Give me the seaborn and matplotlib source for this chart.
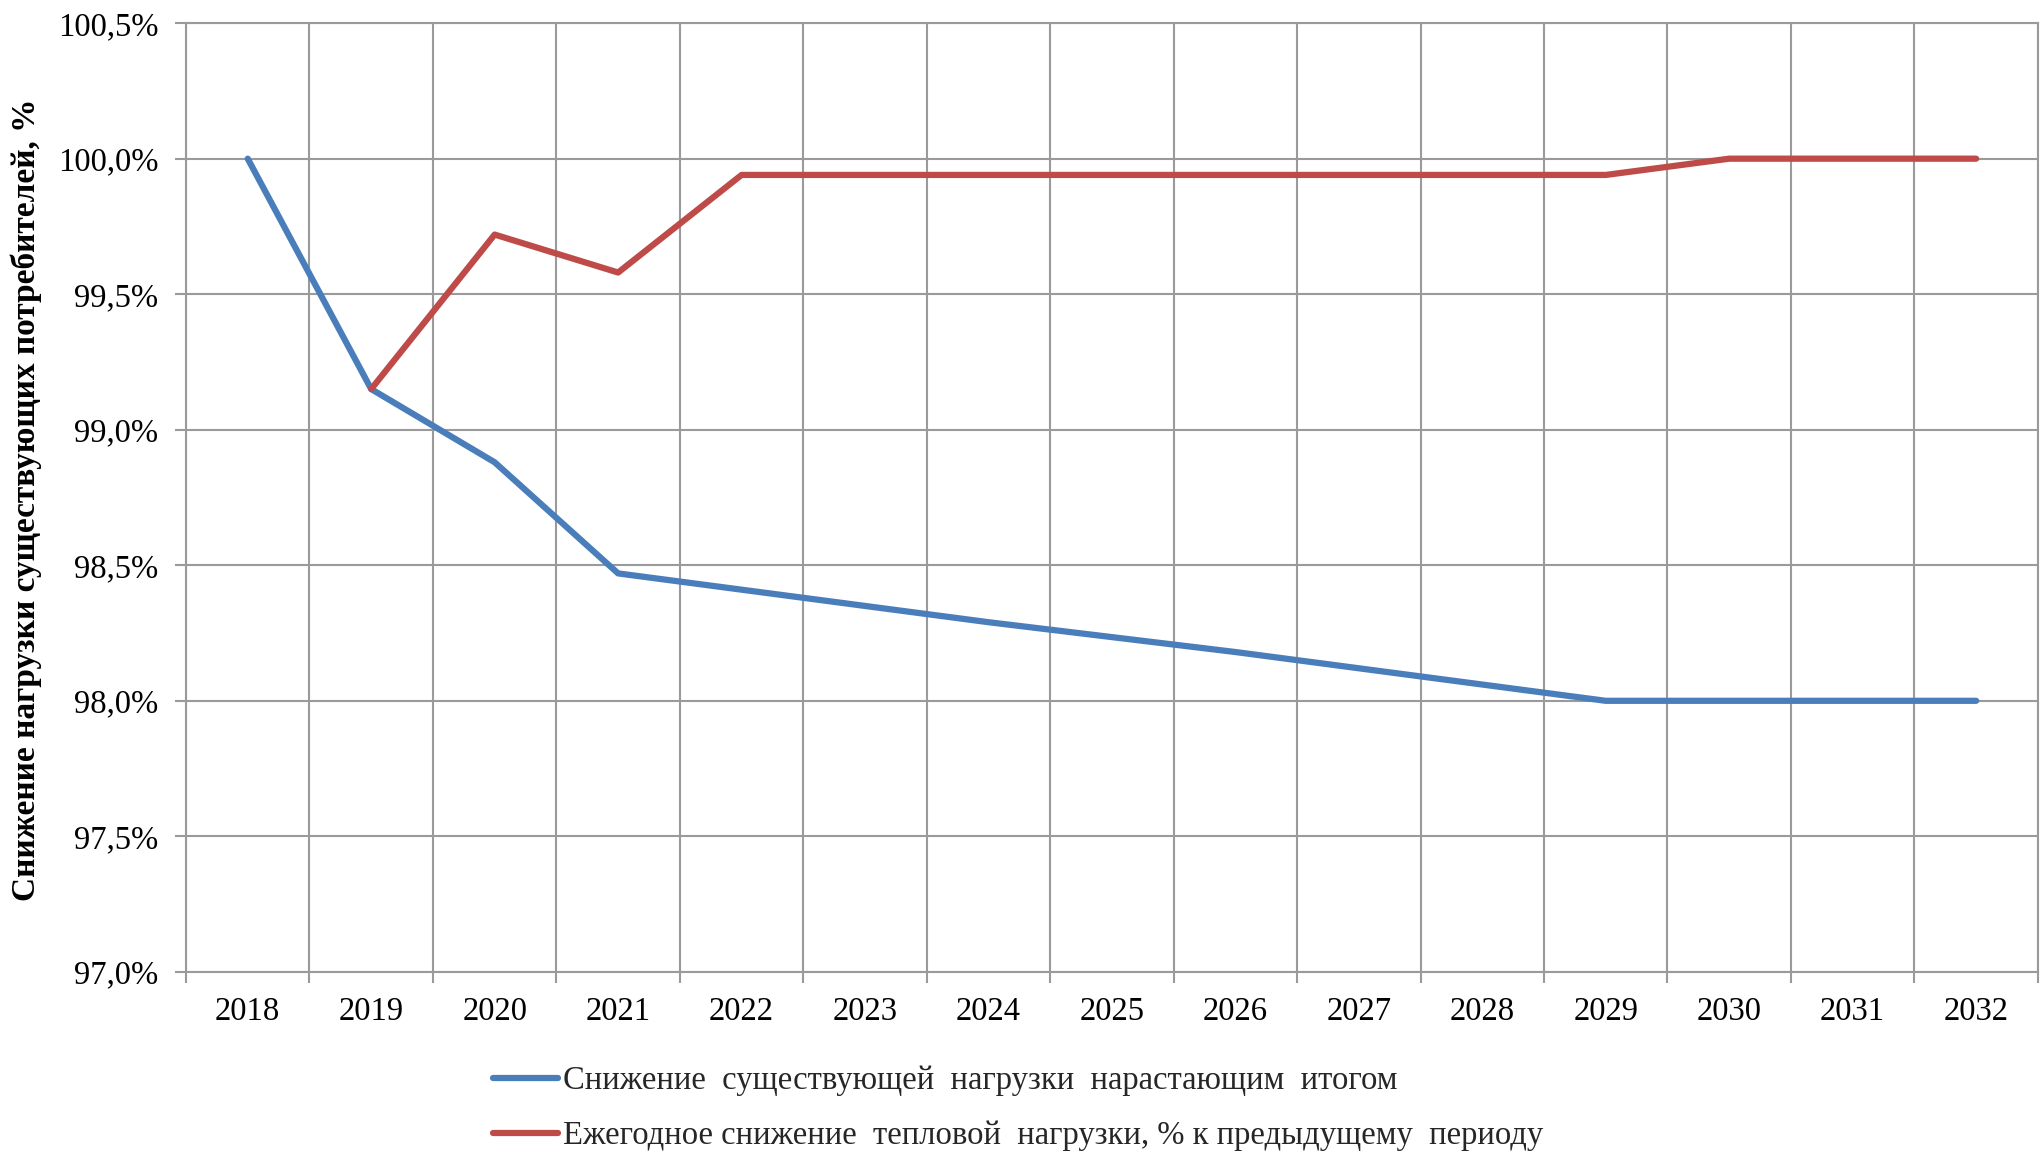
import matplotlib
matplotlib.use("Agg")
import matplotlib.pyplot as plt
import seaborn as sns
import pandas as pd
import numpy as np
from matplotlib.ticker import FuncFormatter, FixedLocator
from matplotlib.lines import Line2D

years = ["2018", "2019", "2020", "2021", "2022", "2023", "2024", "2025",
         "2026", "2027", "2028", "2029", "2030", "2031", "2032"]
cumulative = [100.00, 99.15, 98.88, 98.47, 98.41, 98.35, 98.29, 98.235,
              98.18, 98.12, 98.06, 98.00, 98.00, 98.00, 98.00]
annual_years = years[1:]
annual = [99.15, 99.72, 99.58, 99.94, 99.94, 99.94, 99.94, 99.94,
          99.94, 99.94, 99.94, 100.00, 100.00, 100.00]
series_names = ["Снижение  существующей  нагрузки  нарастающим  итогом",
                "Ежегодное снижение  тепловой  нагрузки, % к предыдущему  периоду"]
y_label = "Снижение нагрузки существующих потребителей, %"

rows = []
for y, v in zip(years, cumulative):
    rows.append({"idx": years.index(y), "val": v, "series": series_names[0]})
for y, v in zip(annual_years, annual):
    rows.append({"idx": years.index(y), "val": v, "series": series_names[1]})
df = pd.DataFrame(rows)

sns.set_theme(style="white")
plt.rcParams["font.family"] = ["Liberation Serif", "DejaVu Serif"]

fig = plt.figure(figsize=(20.44, 11.57), dpi=100)
ax = fig.add_axes([0.091, 0.160, 0.906, 0.820])

palette = {series_names[0]: "#4A7EBB", series_names[1]: "#BE4B48"}
sns.lineplot(data=df, x="idx", y="val", hue="series", palette=palette,
             linewidth=4.5, ax=ax, legend=False, sort=False)

grid_color = "#9a9a9a"
ax.set_xlim(-0.5, len(years) - 0.5)
ax.set_ylim(97.0, 100.5)
ax.yaxis.set_major_locator(FixedLocator(np.arange(97.0, 100.51, 0.5)))
ax.yaxis.set_major_formatter(FuncFormatter(lambda v, p: f"{v:.1f}%".replace(".", ",")))

ax.xaxis.set_major_locator(FixedLocator(np.arange(len(years))))
ax.set_xticklabels(years)
ax.xaxis.set_minor_locator(FixedLocator(np.arange(-0.5, len(years), 1.0)))

ax.grid(True, which="minor", axis="x", color=grid_color, linewidth=1.5)
ax.grid(True, which="major", axis="y", color=grid_color, linewidth=1.5)
ax.set_axisbelow(True)

ax.tick_params(axis="x", which="major", length=0, pad=18, labelsize=23.5, labelcolor="black")
ax.tick_params(axis="x", which="minor", length=8, width=1.5, color=grid_color, direction="out", bottom=True)
ax.tick_params(axis="y", which="major", length=8, width=1.5, color=grid_color, direction="out",
               left=True, pad=12, labelsize=23.5, labelcolor="black")

for s in ax.spines.values():
    s.set_color(grid_color)
    s.set_linewidth(1.5)

ax.set_xlabel("")
ax.set_ylabel("")
fig.text(0.0127, 0.568, y_label, rotation=90, ha="center", va="center",
         fontsize=24, fontweight="bold", color="black")

handles = [Line2D([], [], color=palette[n], linewidth=4.5, solid_capstyle="round") for n in series_names]
fig.legend(handles, series_names, loc="center left", bbox_to_anchor=(0.241, 0.042),
           frameon=False, fontsize=23.5, handlelength=2.0, handletextpad=0.15,
           labelspacing=0.75, borderaxespad=0, borderpad=0)

fig.savefig("out.png", dpi=100, facecolor="white")
